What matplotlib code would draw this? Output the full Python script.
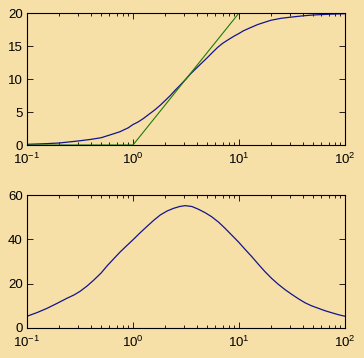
import numpy as np
import matplotlib
matplotlib.use("Agg")
import matplotlib.pyplot as plt

plt.rcParams['font.family'] = ['Liberation Sans', 'DejaVu Sans']
plt.rcParams['mathtext.fontset'] = 'custom'
plt.rcParams['mathtext.rm'] = 'Liberation Sans'
plt.rcParams['mathtext.it'] = 'Liberation Sans'

# Data
x_top = [0.1, 0.15, 0.2, 0.3, 0.4, 0.5, 0.6, 0.75, 0.9, 1, 1.12, 1.25, 1.4, 1.6, 1.8, 2,
         2.25, 2.5, 2.8, 3.16, 3.5, 4, 4.5, 5, 5.6, 6.3, 7, 8, 9, 10, 11, 12.5, 15,
         17.5, 20, 25, 30, 40, 50, 70, 100]
y_top = [0.1, 0.2, 0.3, 0.6, 0.85, 1.1, 1.5, 2.0, 2.6, 3.1, 3.5, 4.0, 4.6, 5.3, 6.0, 6.7,
         7.5, 8.3, 9.1, 10.0, 10.8, 11.7, 12.5, 13.2, 14.0, 14.8, 15.4, 16.0, 16.5, 16.9,
         17.3, 17.7, 18.25, 18.6, 18.9, 19.2, 19.35, 19.57, 19.7, 19.81, 19.89]

x_asym = [0.1, 1, 10, 100]
y_asym = [0, 0, 20, 20]

x_bot = [0.1, 0.125, 0.155, 0.19, 0.238, 0.28, 0.318, 0.37, 0.426, 0.5, 0.569, 0.66, 0.76,
         0.88, 1.01, 1.17, 1.36, 1.57, 1.81, 2.1, 2.42, 2.75, 3.1, 3.6, 4.13, 4.8, 5.52,
         6.4, 7.38, 8.5, 9.85, 11.4, 13.2, 15.2, 17.6, 20.3, 23.5, 27.2, 31.4, 36.3,
         41.9, 48.4, 56, 64.7, 74.8, 86.5, 100]
y_bot = [5.3, 7.0, 8.9, 11.0, 13.4, 15.0, 16.6, 19.0, 21.6, 24.8, 28.0, 31.3, 34.4,
         37.3, 40.0, 43.0, 45.9, 48.6, 51.0, 52.8, 54.0, 54.8, 55.2, 54.8, 53.6, 52.0, 50.2,
         47.8, 45.0, 42.0, 38.9, 35.5, 32.2, 28.8, 25.4, 22.4, 19.7, 17.3, 15.2, 13.2,
         11.4, 10.0, 8.9, 7.8, 6.9, 6.0, 5.3]

top_yticks = [0, 5, 10, 15, 20]
bot_yticks = [0, 20, 40, 60]

bg = "#F6E0A8"
fig = plt.figure(figsize=(3.64, 3.58), dpi=100, facecolor=bg)
ax1 = fig.add_axes([27/364, 1-145/358, 318/364, 132/358])
ax2 = fig.add_axes([27/364, 1-328/358, 318/364, 133/358])

for ax in (ax1, ax2):
    ax.set_facecolor("none")
    ax.set_xscale("log")
    ax.set_xlim(0.1, 100)
    ax.tick_params(which="both", direction="in", top=True, right=True,
                   labelsize=9.5, width=0.6, colors="black")
    ax.tick_params(which="major", length=4)
    ax.tick_params(which="minor", length=2.2)
    ax.tick_params(axis="x", pad=5)
    ax.tick_params(axis="y", pad=3)
    for s in ax.spines.values():
        s.set_linewidth(0.8)

ax1.plot(x_top, y_top, color="#14148C", lw=0.9)
ax1.plot(x_asym, y_asym, color="#1F7A0A", lw=0.8)
ax1.set_ylim(0, 20)
ax1.set_yticks(top_yticks)

ax2.plot(x_bot, y_bot, color="#14148C", lw=0.9)
ax2.set_ylim(0, 60)
ax2.set_yticks(bot_yticks)

fig.savefig("out.png", dpi=100, facecolor=bg)
